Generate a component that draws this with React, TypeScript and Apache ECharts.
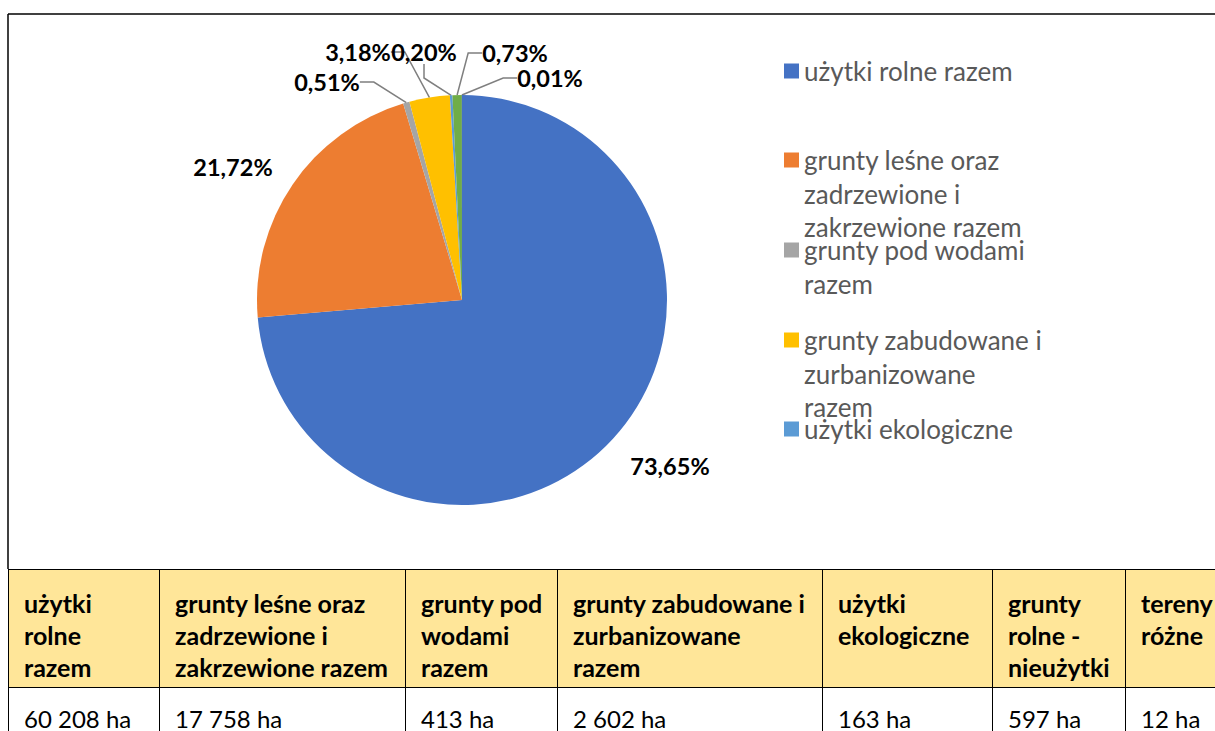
import React, { useEffect, useRef } from "react";
import * as echarts from "echarts";

// ---- data ----
const categories = [
  "użytki rolne razem",
  "grunty leśne oraz zadrzewione i zakrzewione razem",
  "grunty pod wodami razem",
  "grunty zabudowane i zurbanizowane razem",
  "użytki ekologiczne",
  "grunty rolne - nieużytki",
  "tereny różne",
];
const areasHa = [60208, 17758, 413, 2602, 163, 597, 12];
const sliceColors = ["#4472C4", "#ED7D31", "#A5A5A5", "#FFC000", "#5B9BD5", "#70AD47", "#264478"];
// legend (as visible in the reference, only the first five entries fit)
const legendLines = [
  ["użytki rolne razem"],
  ["grunty leśne oraz", "zadrzewione i", "zakrzewione razem"],
  ["grunty pod wodami", "razem"],
  ["grunty zabudowane i", "zurbanizowane", "razem"],
  ["użytki ekologiczne"],
];
const tableHeaderLines = [
  ["użytki", "rolne", "razem"],
  ["grunty leśne oraz", "zadrzewione i", "zakrzewione razem"],
  ["grunty pod", "wodami", "razem"],
  ["grunty zabudowane i", "zurbanizowane", "razem"],
  ["użytki", "ekologiczne"],
  ["grunty", "rolne -", "nieużytki"],
  ["tereny", "różne"],
];

// ---- layout / style constants ----
const FONT = "Lato, 'Open Sans', sans-serif";
const LABEL_POS: [number, number][] = [
  [670, 466],
  [233, 167],
  [327, 82],
  [358, 52],
  [424, 52],
  [515, 53],
  [550, 78],
];
const LEGEND_ICON_Y = [71, 160, 250, 340, 429];
const LEGEND_LH = 33.5;
const COL_WIDTHS = [151, 246, 152, 265, 170, 133, 130];

const fmtHa = (n: number) => String(n).replace(/\B(?=(\d{3})+(?!\d))/g, " ") + " ha";

function Chart() {
  const ref = useRef<HTMLDivElement>(null);
  useEffect(() => {
    if (!ref.current) return;
    const chart = echarts.init(ref.current, undefined, { renderer: "svg" });
    const option: any = {
      animation: false,
      legend: legendLines.map((lines, i) => {
        const n = lines.length;
        // blank lines above so that the first text line sits level with the icon
        const text = [...Array(n - 1).fill(""), ...lines].join("\n");
        return {
          data: [categories[i]],
          left: 779,
          top: LEGEND_ICON_Y[i] - 5 - ((2 * n - 1) * LEGEND_LH) / 2,
          orient: "vertical",
          icon: "rect",
          itemWidth: 15,
          itemHeight: 15,
          itemGap: 0,
          itemTextGap: 9,
          padding: 5,
          selectedMode: false,
          formatter: () => text,
          textStyle: {
            fontFamily: FONT,
            fontSize: 26,
            color: "#595959",
            lineHeight: LEGEND_LH,
          },
        };
      }),
      graphic: [
        { type: "line", shape: { x1: 8, y1: 14, x2: 1215, y2: 14 }, style: { stroke: "#000", lineWidth: 1.5 } },
        { type: "line", shape: { x1: 8, y1: 14, x2: 8, y2: 569 }, style: { stroke: "#000", lineWidth: 1.5 } },
      ],
      series: [
        {
          type: "pie",
          center: [462, 300],
          radius: [0, 205],
          startAngle: 90,
          clockwise: true,
          avoidLabelOverlap: false,
          itemStyle: { borderWidth: 0 },
          data: categories.map((name, i) => ({
            name,
            value: areasHa[i],
            itemStyle: { color: sliceColors[i] },
            labelLine: { show: i > 1 },
          })),
          label: {
            show: true,
            position: "outside",
            formatter: (p: any) => p.percent.toFixed(2).replace(".", ",") + "%",
            fontFamily: FONT,
            fontWeight: "bold",
            fontSize: 23.5,
            color: "#000",
          },
          labelLine: {
            show: true,
            length: 10,
            length2: 14,
            lineStyle: { color: "#7F7F7F", width: 1.5 },
          },
          labelLayout: (params: any) => {
            const p = LABEL_POS[params.dataIndex];
            return { x: p[0], y: p[1], align: "center", verticalAlign: "middle" };
          },
        },
      ],
    };
    chart.setOption(option);
    return () => chart.dispose();
  }, []);
  return <div ref={ref} style={{ position: "absolute", left: 0, top: 0, width: 1215, height: 569 }} />;
}

export default function App() {
  const cellBase: React.CSSProperties = {
    border: "1.5px solid #000",
    padding: "0 0 0 15px",
    verticalAlign: "top",
    whiteSpace: "nowrap",
    overflow: "hidden",
    fontFamily: FONT,
    color: "#000",
  };
  return (
    <div style={{ position: "fixed", left: 0, top: 0, width: 1215, height: 731, overflow: "hidden", background: "#fff" }}>
      <Chart />
      <table
        style={{
          position: "absolute",
          left: 8,
          top: 569,
          borderCollapse: "collapse",
          tableLayout: "fixed",
          width: COL_WIDTHS.reduce((a, b) => a + b, 0),
        }}
      >
        <colgroup>
          {COL_WIDTHS.map((w, i) => (
            <col key={i} style={{ width: w }} />
          ))}
        </colgroup>
        <tbody>
          <tr style={{ height: 118 }}>
            {tableHeaderLines.map((lines, i) => (
              <td
                key={i}
                style={{
                  ...cellBase,
                  background: "#FFE699",
                  fontWeight: "bold",
                  fontSize: 25,
                  lineHeight: "32px",
                  paddingTop: 17,
                }}
              >
                {lines.map((l, j) => (
                  <div key={j}>{l}</div>
                ))}
              </td>
            ))}
          </tr>
          <tr style={{ height: 80 }}>
            {areasHa.map((v, i) => (
              <td key={i} style={{ ...cellBase, fontSize: 24, lineHeight: "32px", paddingTop: 15 }}>
                {fmtHa(v)}
              </td>
            ))}
          </tr>
        </tbody>
      </table>
    </div>
  );
}
